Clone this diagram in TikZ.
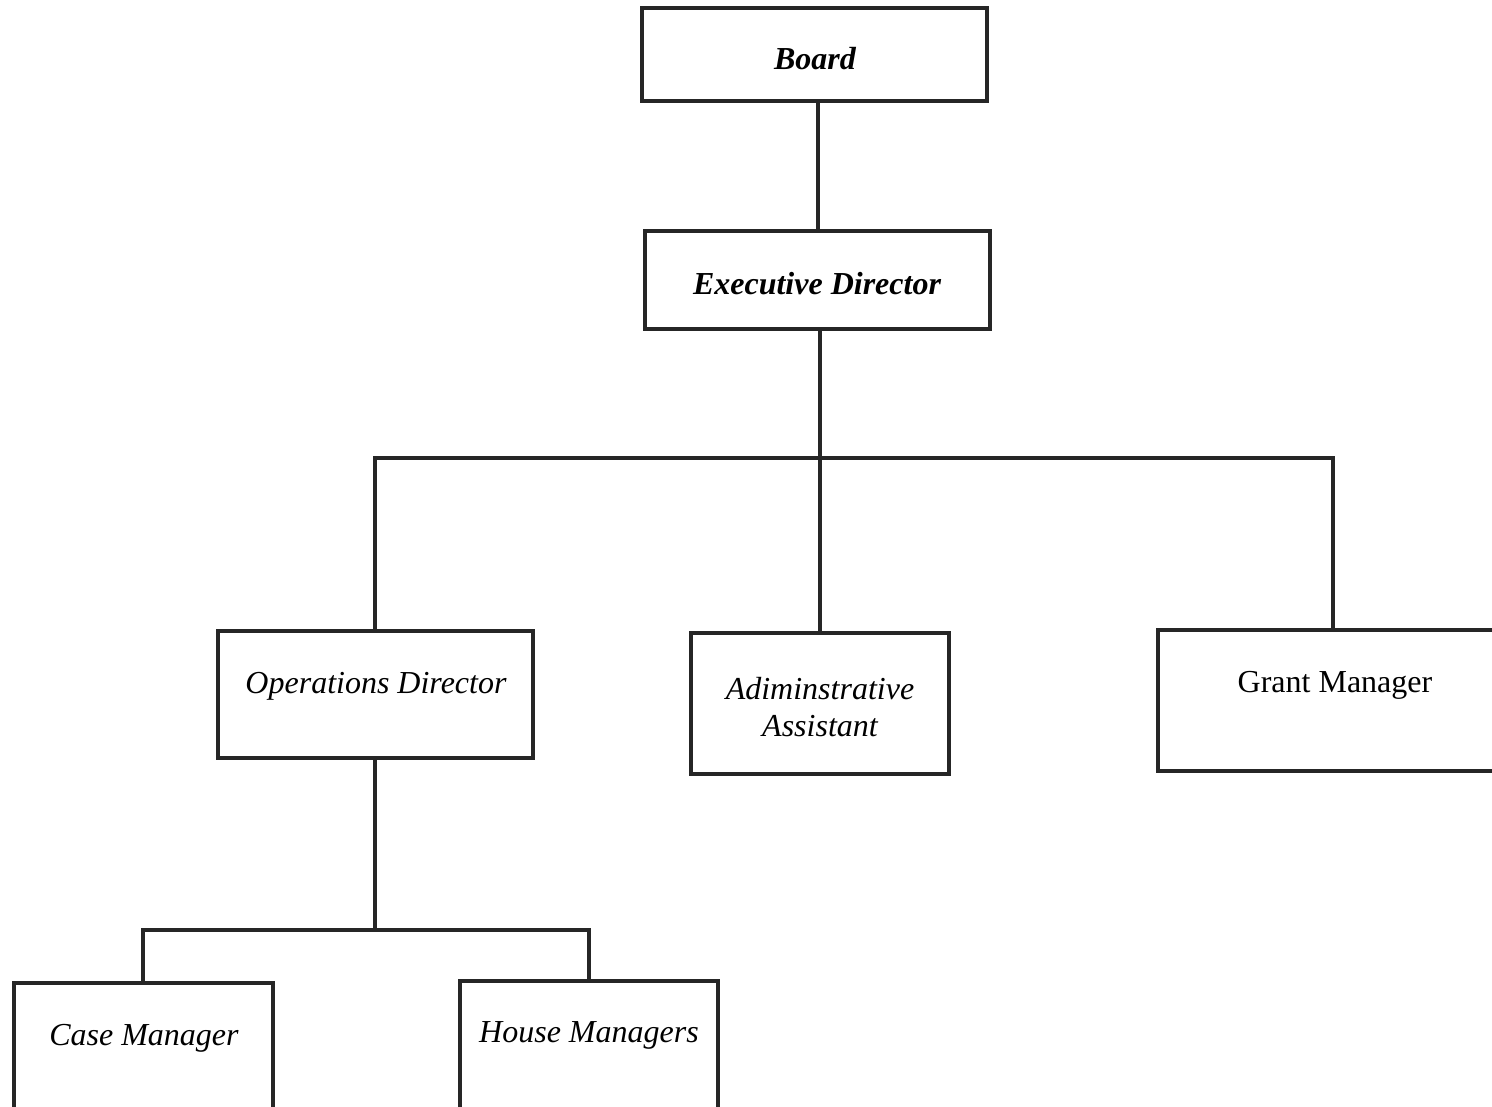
\documentclass[tikz,border=0pt]{standalone}
\usepackage{fontspec}
\setmainfont{Liberation Serif}
\begin{document}
\begin{tikzpicture}[x=1pt,y=-1pt,
  box/.style={draw=black!85,line width=3.2pt,rectangle,inner sep=0pt,outer sep=0pt,anchor=north west},
  lbl/.style={font=\fontsize{32}{38}\selectfont\itshape,align=center,inner sep=0pt},
  conn/.style={draw=black!85,line width=3.2pt}]
\useasboundingbox (0,0) rectangle (1492,1107);
\clip (0,0) rectangle (1492,1107);
\fill[white] (0,0) rectangle (1492,1107);
% boxes
\node[box,minimum width=345pt,minimum height=93pt] (board) at (642,8) {};
\node[box,minimum width=345pt,minimum height=98pt] (ed) at (645,231) {};
\node[box,minimum width=315pt,minimum height=127pt] (ops) at (218,631) {};
\node[box,minimum width=258pt,minimum height=141pt] (adm) at (691,633) {};
\node[box,minimum width=360pt,minimum height=141pt] (grant) at (1158,630) {};
\node[box,minimum width=259pt,minimum height=160pt] (case) at (14,983) {};
\node[box,minimum width=258pt,minimum height=160pt] (house) at (460,981) {};
% labels
\node[lbl,font=\fontsize{32}{38}\selectfont\bfseries\itshape] (tboard) at (815,59) {Board};
\node[lbl,font=\fontsize{32}{38}\selectfont\bfseries\itshape] (ted) at (817,284) {Executive Director};
\node[lbl] (tops) at (376,686) {Operations Director};
\node[lbl,font=\fontsize{32}{37}\selectfont\itshape] (tadm) at (820,707) {Adiminstrative\\Assistant};
\node[lbl,font=\fontsize{32}{38}\selectfont] (tgrant) at (1335,685) {Grant Manager};
\node[lbl] (tcase) at (144,1038) {Case Manager};
\node[lbl] (thouse) at (589,1035) {House Managers};
% connectors
\coordinate (busA) at (820,458);
\coordinate (busB) at (375,930);
\draw[conn] (board.south -| 818,0) -- (ed.north -| 818,0);
\draw[conn] (ed.south -| busA) -- (busA);
\draw[conn] (busA) -- (375,458) -- (ops.north -| 375,0);
\draw[conn] (busA) -- (adm.north -| busA);
\draw[conn] (busA) -- (1333,458) -- (grant.north -| 1333,0);
\draw[conn] (ops.south -| busB) -- (busB);
\draw[conn] (busB) -- (143,930) -- (case.north -| 143,0);
\draw[conn] (busB) -- (589,930) -- (house.north -| 589,0);
\end{tikzpicture}
\end{document}
